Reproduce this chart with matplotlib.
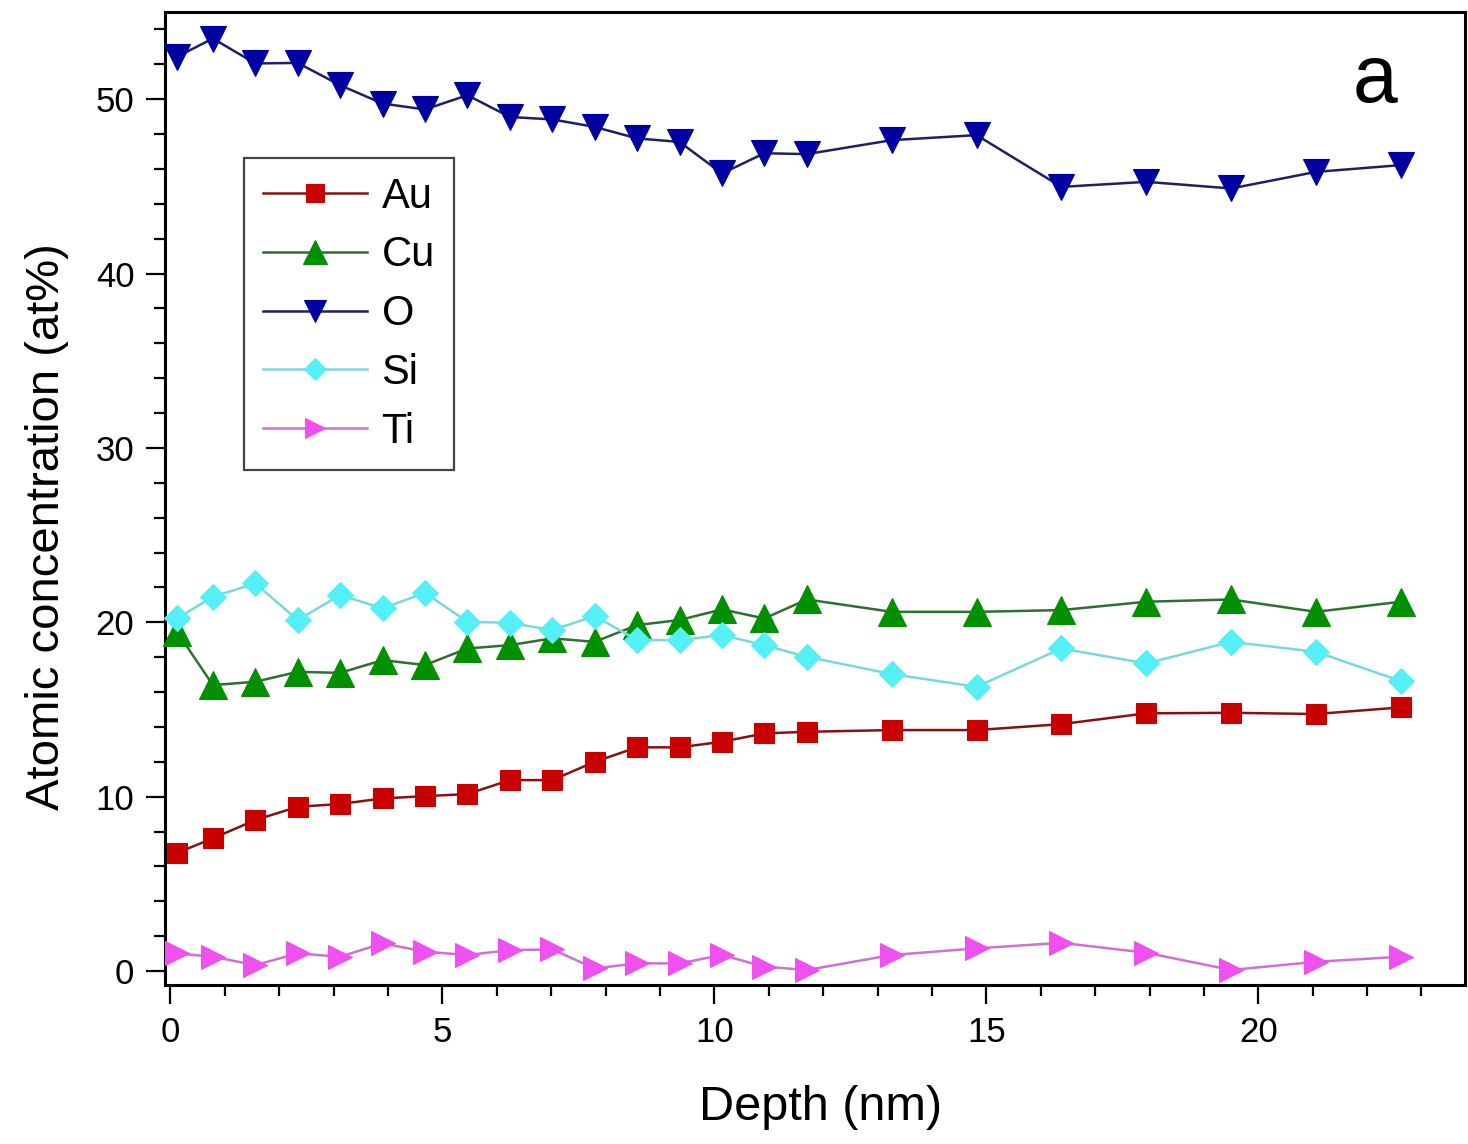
import matplotlib
matplotlib.use("Agg")
import matplotlib.pyplot as plt
from matplotlib.ticker import MultipleLocator

plt.rcParams['font.family'] = ['Liberation Sans', 'DejaVu Sans']

depth = [0.12, 0.78, 1.56, 2.34, 3.12, 3.90, 4.68, 5.46, 6.24, 7.02, 7.80, 8.58,
         9.36, 10.14, 10.92, 11.70, 13.26, 14.82, 16.38, 17.94, 19.50, 21.06, 22.62]

au = [6.77, 7.61, 8.66, 9.42, 9.58, 9.90, 10.03, 10.15, 10.95, 10.95, 12.00, 12.83,
      12.83, 13.15, 13.63, 13.72, 13.82, 13.82, 14.16, 14.78, 14.81, 14.74, 15.12]
cu = [19.46, 16.40, 16.59, 17.16, 17.10, 17.83, 17.55, 18.50, 18.69, 19.08, 18.88, 19.84,
      20.13, 20.74, 20.22, 21.31, 20.60, 20.60, 20.70, 21.18, 21.31, 20.60, 21.18]
o = [52.43, 53.48, 52.05, 52.08, 50.80, 49.75, 49.41, 50.23, 48.98, 48.84, 48.41, 47.75,
     47.55, 45.74, 46.90, 46.85, 47.65, 47.94, 44.97, 45.26, 44.88, 45.83, 46.22]
si = [20.22, 21.46, 22.23, 20.13, 21.56, 20.80, 21.69, 20.03, 19.97, 19.55, 20.36, 18.98,
      18.98, 19.27, 18.69, 18.02, 17.03, 16.30, 18.50, 17.64, 18.88, 18.31, 16.63]
ti = [1.01, 0.82, 0.34, 1.01, 0.82, 1.59, 1.11, 0.92, 1.20, 1.24, 0.15, 0.44,
      0.44, 0.92, 0.25, 0.06, 0.92, 1.30, 1.62, 1.05, 0.06, 0.53, 0.82]

series = [
    ("Au", au, 's', '#C80000', '#8a1010', 15),
    ("Cu", cu, '^', '#009000', '#2f6f2f', 19.5),
    ("O", o, 'v', '#0000A0', '#202060', 19),
    ("Si", si, 'D', '#55F0F5', '#7ad8da', 13.5),
    ("Ti", ti, '>', '#F050F0', '#d070d0', 17),
]

fig = plt.figure(figsize=(14.68, 11.44), dpi=100)
ax = fig.add_axes([165/1468, 1-985/1144, 1300/1468, 973/1144])

for name, vals, mk, mcol, lcol, ms in series:
    ax.plot(depth, vals, color=lcol, lw=1.8, marker=mk, markersize=ms,
            markerfacecolor=mcol, markeredgecolor=mcol, markeredgewidth=0.8,
            label=name, clip_on=False, zorder=3)

ax.set_xlim(-0.1, 23.8)
ax.set_ylim(-0.8, 55)
ax.xaxis.set_major_locator(MultipleLocator(5))
ax.xaxis.set_minor_locator(MultipleLocator(1))
ax.yaxis.set_major_locator(MultipleLocator(10))
ax.yaxis.set_minor_locator(MultipleLocator(2))

for sp in ax.spines.values():
    sp.set_linewidth(2.2)
ax.tick_params(which='major', direction='out', length=14, width=1.6,
               labelsize=25, pad=8, top=False, right=False)
ax.tick_params(which='minor', direction='out', length=8, width=1.6,
               top=False, right=False)

ax.set_xlabel("Depth (nm)", fontsize=35, labelpad=26)
ax.set_ylabel("Atomic concentration (at%)", fontsize=34, labelpad=19)
ax.yaxis.label.set_y(0.471)
ax.xaxis.label.set_x(0.504)

ax.text(0.931, 0.929, "a", transform=ax.transAxes, fontsize=58,
        ha='center', va='center')

leg = ax.legend(loc='upper left', bbox_to_anchor=(0.0608, 0.85), borderaxespad=0,
                fontsize=30, frameon=True, fancybox=False, framealpha=1,
                edgecolor='#444444', handlelength=2.5, handletextpad=0.35,
                labelspacing=0.45, borderpad=0.45, numpoints=1, markerscale=0.85)
leg.get_frame().set_linewidth(1.6)

fig.savefig("out.png", dpi=100, facecolor='white')
